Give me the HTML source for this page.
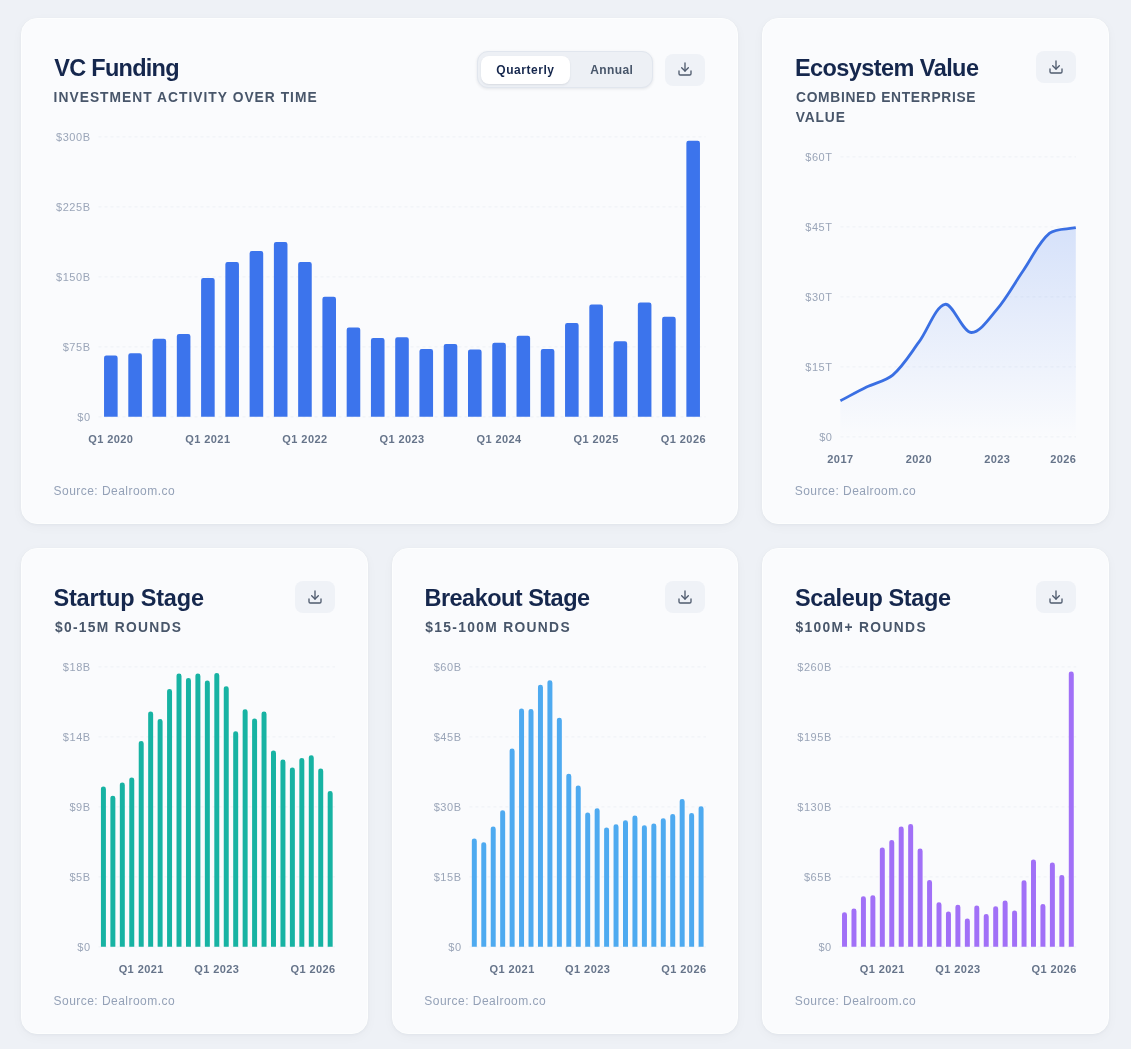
<!DOCTYPE html>
<html lang="en"><head><meta charset="utf-8"><title>VC Funding Dashboard</title>
<style>
html,body{margin:0;padding:0}
body{width:1131px;height:1049px;position:relative;overflow:hidden;background:#eef1f6;font-family:"Liberation Sans",sans-serif;-webkit-font-smoothing:antialiased}
.card{position:absolute;box-sizing:border-box;background:#fafbfd;border:1px solid #fdfefe;border-radius:16px;box-shadow:0 1px 3px rgba(30,41,59,.04),0 3px 12px rgba(30,41,59,.03)}
.title{position:absolute;font-size:23.5px;line-height:33px;font-weight:700;color:#15274d;letter-spacing:-.35px;white-space:nowrap}
.sub{position:absolute;font-size:13.8px;line-height:20px;font-weight:700;color:#48566a;letter-spacing:1.02px;white-space:nowrap}
.src{position:absolute;font-size:12px;line-height:16px;color:#94a1b7;letter-spacing:.3px;white-space:nowrap}
.btn{position:absolute;width:40px;height:32px;border-radius:8px;background:#eff2f7}
.btn .ic{position:absolute;left:12px;top:7.6px}
.tog{position:absolute;box-sizing:border-box;border:1px solid #e1e6ee;background:#edf0f5;border-radius:11px;box-shadow:0 1px 3px rgba(30,41,59,.10)}
.pill{position:absolute;background:#fff;border-radius:8px;box-shadow:0 1px 2px rgba(30,41,59,.10)}
.tl{position:absolute;font-size:12px;line-height:28px;font-weight:700;white-space:nowrap}
svg.ch{position:absolute;left:0;top:0}
.g{stroke:#eef1f6;stroke-width:1;stroke-dasharray:3 3}
.yl{font-family:"Liberation Sans",sans-serif;font-size:11px;fill:#9aa5b8;text-anchor:end;letter-spacing:.55px}
.xl{font-family:"Liberation Sans",sans-serif;font-size:11px;font-weight:700;fill:#66748a;letter-spacing:.42px}
</style></head><body>

<div class="card" style="left:21px;top:18px;width:717.2px;height:506px"></div>
<div id="vc_t" class="title" style="left:54.27px;top:51.8px;letter-spacing:-0.725px;">VC Funding</div>
<div id="vc_s" class="sub" style="left:53.61px;top:87.5px;letter-spacing:1.017px;">INVESTMENT ACTIVITY OVER TIME</div>
<div id="vc_f" class="src" style="left:53.52px;top:482.5px;letter-spacing:0.466px;">Source: Dealroom.co</div>
<div class="card" style="left:762.2px;top:18px;width:346.8px;height:506px"></div>
<div id="eco_t" class="title" style="left:794.9px;top:51.8px;letter-spacing:-0.567px;">Ecosystem Value</div>
<div id="eco_s" class="sub" style="left:796px;top:87.5px;letter-spacing:0.692px;">COMBINED ENTERPRISE</div>
<div id="eco_s2" class="sub" style="left:795.75px;top:107.5px;letter-spacing:0.839px;">VALUE</div>
<div id="eco_f" class="src" style="left:794.68px;top:482.5px;letter-spacing:0.458px;">Source: Dealroom.co</div>
<div class="card" style="left:21px;top:548px;width:347px;height:486px"></div>
<div id="st_t" class="title" style="left:53.51px;top:581.8px;letter-spacing:-0.191px;">Startup Stage</div>
<div id="st_s" class="sub" style="left:54.94px;top:617.5px;letter-spacing:1.300px;">$0-15M ROUNDS</div>
<div id="st_f" class="src" style="left:53.52px;top:992.5px;letter-spacing:0.466px;">Source: Dealroom.co</div>
<div class="card" style="left:392px;top:548px;width:346.2px;height:486px"></div>
<div id="br_t" class="title" style="left:424.51px;top:581.8px;letter-spacing:-0.525px;">Breakout Stage</div>
<div id="br_s" class="sub" style="left:425.33px;top:617.5px;letter-spacing:1.324px;">$15-100M ROUNDS</div>
<div id="br_f" class="src" style="left:424.34px;top:992.5px;letter-spacing:0.476px;">Source: Dealroom.co</div>
<div class="card" style="left:762.2px;top:548px;width:346.8px;height:486px"></div>
<div id="sc_t" class="title" style="left:794.96px;top:581.8px;letter-spacing:-0.387px;">Scaleup Stage</div>
<div id="sc_s" class="sub" style="left:795.44px;top:617.5px;letter-spacing:1.357px;">$100M+ ROUNDS</div>
<div id="sc_f" class="src" style="left:794.68px;top:992.5px;letter-spacing:0.458px;">Source: Dealroom.co</div>
<div class="tog" style="left:476.5px;top:51px;width:176px;height:37px"></div>
<div class="pill" style="left:481px;top:55.5px;width:89px;height:28px"></div>
<div id="tq" class="tl" style="left:496.34px;top:55.5px;letter-spacing:0.534px;color:#15274d;">Quarterly</div>
<div id="ta" class="tl" style="left:590.21px;top:55.5px;letter-spacing:0.390px;color:#48566a;">Annual</div>
<div class="btn" style="left:665.2px;top:53.5px"><svg class="ic" viewBox="0 0 24 24" width="16" height="16" fill="none" stroke="#4f5b6e" stroke-width="2" stroke-linecap="round" stroke-linejoin="round"><path d="M21 15v4a2 2 0 0 1-2 2H5a2 2 0 0 1-2-2v-4"/><path d="M7 10l5 5 5-5"/><path d="M12 15V3"/></svg></div>
<div class="btn" style="left:1036px;top:51px"><svg class="ic" viewBox="0 0 24 24" width="16" height="16" fill="none" stroke="#4f5b6e" stroke-width="2" stroke-linecap="round" stroke-linejoin="round"><path d="M21 15v4a2 2 0 0 1-2 2H5a2 2 0 0 1-2-2v-4"/><path d="M7 10l5 5 5-5"/><path d="M12 15V3"/></svg></div>
<div class="btn" style="left:295px;top:581px"><svg class="ic" viewBox="0 0 24 24" width="16" height="16" fill="none" stroke="#4f5b6e" stroke-width="2" stroke-linecap="round" stroke-linejoin="round"><path d="M21 15v4a2 2 0 0 1-2 2H5a2 2 0 0 1-2-2v-4"/><path d="M7 10l5 5 5-5"/><path d="M12 15V3"/></svg></div>
<div class="btn" style="left:665.2px;top:581px"><svg class="ic" viewBox="0 0 24 24" width="16" height="16" fill="none" stroke="#4f5b6e" stroke-width="2" stroke-linecap="round" stroke-linejoin="round"><path d="M21 15v4a2 2 0 0 1-2 2H5a2 2 0 0 1-2-2v-4"/><path d="M7 10l5 5 5-5"/><path d="M12 15V3"/></svg></div>
<div class="btn" style="left:1036px;top:581px"><svg class="ic" viewBox="0 0 24 24" width="16" height="16" fill="none" stroke="#4f5b6e" stroke-width="2" stroke-linecap="round" stroke-linejoin="round"><path d="M21 15v4a2 2 0 0 1-2 2H5a2 2 0 0 1-2-2v-4"/><path d="M7 10l5 5 5-5"/><path d="M12 15V3"/></svg></div>
<svg class="ch" width="1131" height="1049" viewBox="0 0 1131 1049">
<defs><linearGradient id="eg" x1="0" y1="227" x2="0" y2="437" gradientUnits="userSpaceOnUse"><stop offset="0" stop-color="#3c74ec" stop-opacity=".19"/><stop offset="1" stop-color="#3c74ec" stop-opacity="0"/></linearGradient></defs>
<line x1="98.5" y1="136.9" x2="705.5" y2="136.9" class="g"/>
<line x1="98.5" y1="206.9" x2="705.5" y2="206.9" class="g"/>
<line x1="98.5" y1="276.9" x2="705.5" y2="276.9" class="g"/>
<line x1="98.5" y1="346.9" x2="705.5" y2="346.9" class="g"/>
<line x1="98.5" y1="416.9" x2="705.5" y2="416.9" class="g"/>
<text x="90.6" y="140.9" class="yl">$300B</text>
<text x="90.6" y="210.9" class="yl">$225B</text>
<text x="90.6" y="280.9" class="yl">$150B</text>
<text x="90.6" y="350.9" class="yl">$75B</text>
<text x="90.6" y="420.9" class="yl">$0</text>
<path d="M104.04 416.85V357.7A2.2 2.2 0 0 1 106.24 355.5H115.43A2.2 2.2 0 0 1 117.63 357.7V416.85ZM128.3 416.85V355.5A2.2 2.2 0 0 1 130.5 353.3H139.69A2.2 2.2 0 0 1 141.89 355.5V416.85ZM152.57 416.85V341A2.2 2.2 0 0 1 154.77 338.8H163.95A2.2 2.2 0 0 1 166.15 341V416.85ZM176.83 416.85V336.2A2.2 2.2 0 0 1 179.03 334H188.22A2.2 2.2 0 0 1 190.42 336.2V416.85ZM201.09 416.85V280.3A2.2 2.2 0 0 1 203.29 278.1H212.48A2.2 2.2 0 0 1 214.68 280.3V416.85ZM225.36 416.85V264.3A2.2 2.2 0 0 1 227.56 262.1H236.75A2.2 2.2 0 0 1 238.95 264.3V416.85ZM249.62 416.85V253.3A2.2 2.2 0 0 1 251.82 251.1H261.01A2.2 2.2 0 0 1 263.21 253.3V416.85ZM273.89 416.85V244.3A2.2 2.2 0 0 1 276.09 242.1H285.27A2.2 2.2 0 0 1 287.47 244.3V416.85ZM298.15 416.85V264.2A2.2 2.2 0 0 1 300.35 262H309.54A2.2 2.2 0 0 1 311.74 264.2V416.85ZM322.41 416.85V298.9A2.2 2.2 0 0 1 324.61 296.7H333.8A2.2 2.2 0 0 1 336 298.9V416.85ZM346.68 416.85V329.7A2.2 2.2 0 0 1 348.88 327.5H358.07A2.2 2.2 0 0 1 360.27 329.7V416.85ZM370.94 416.85V340.3A2.2 2.2 0 0 1 373.14 338.1H382.33A2.2 2.2 0 0 1 384.53 340.3V416.85ZM395.21 416.85V339.5A2.2 2.2 0 0 1 397.41 337.3H406.59A2.2 2.2 0 0 1 408.79 339.5V416.85ZM419.47 416.85V351.3A2.2 2.2 0 0 1 421.67 349.1H430.86A2.2 2.2 0 0 1 433.06 351.3V416.85ZM443.73 416.85V346.1A2.2 2.2 0 0 1 445.93 343.9H455.12A2.2 2.2 0 0 1 457.32 346.1V416.85ZM468 416.85V351.7A2.2 2.2 0 0 1 470.2 349.5H479.39A2.2 2.2 0 0 1 481.59 351.7V416.85ZM492.26 416.85V344.9A2.2 2.2 0 0 1 494.46 342.7H503.65A2.2 2.2 0 0 1 505.85 344.9V416.85ZM516.53 416.85V337.9A2.2 2.2 0 0 1 518.73 335.7H527.91A2.2 2.2 0 0 1 530.11 337.9V416.85ZM540.79 416.85V351.3A2.2 2.2 0 0 1 542.99 349.1H552.18A2.2 2.2 0 0 1 554.38 351.3V416.85ZM565.05 416.85V325.3A2.2 2.2 0 0 1 567.25 323.1H576.44A2.2 2.2 0 0 1 578.64 325.3V416.85ZM589.32 416.85V306.7A2.2 2.2 0 0 1 591.52 304.5H600.71A2.2 2.2 0 0 1 602.91 306.7V416.85ZM613.58 416.85V343.5A2.2 2.2 0 0 1 615.78 341.3H624.97A2.2 2.2 0 0 1 627.17 343.5V416.85ZM637.85 416.85V304.7A2.2 2.2 0 0 1 640.05 302.5H649.23A2.2 2.2 0 0 1 651.43 304.7V416.85ZM662.11 416.85V318.9A2.2 2.2 0 0 1 664.31 316.7H673.5A2.2 2.2 0 0 1 675.7 318.9V416.85ZM686.37 416.85V142.9A2.2 2.2 0 0 1 688.57 140.7H697.76A2.2 2.2 0 0 1 699.96 142.9V416.85Z" fill="#3c74ec"/>
<text x="110.83" y="442.8" class="xl" text-anchor="middle">Q1 2020</text>
<text x="207.89" y="442.8" class="xl" text-anchor="middle">Q1 2021</text>
<text x="304.94" y="442.8" class="xl" text-anchor="middle">Q1 2022</text>
<text x="402" y="442.8" class="xl" text-anchor="middle">Q1 2023</text>
<text x="499.06" y="442.8" class="xl" text-anchor="middle">Q1 2024</text>
<text x="596.11" y="442.8" class="xl" text-anchor="middle">Q1 2025</text>
<text x="706" y="442.8" class="xl" text-anchor="end">Q1 2026</text>
<line x1="840.5" y1="156.9" x2="1076" y2="156.9" class="g"/>
<line x1="840.5" y1="226.9" x2="1076" y2="226.9" class="g"/>
<line x1="840.5" y1="296.9" x2="1076" y2="296.9" class="g"/>
<line x1="840.5" y1="366.9" x2="1076" y2="366.9" class="g"/>
<line x1="840.5" y1="436.9" x2="1076" y2="436.9" class="g"/>
<text x="832.5" y="160.9" class="yl">$60T</text>
<text x="832.5" y="230.9" class="yl">$45T</text>
<text x="832.5" y="300.9" class="yl">$30T</text>
<text x="832.5" y="370.9" class="yl">$15T</text>
<text x="832.5" y="440.9" class="yl">$0</text>
<path d="M840.4 400.8C849.03 396.25 857.8 391.3 866.56 387C875.06 382.82 885.7 381.1 892.71 375.1C902.96 366.32 910.63 353.35 918.87 342.2C927.89 329.98 935.62 306.04 945.02 304.3C952.88 302.84 962.17 331.71 971.18 332.5C979.43 333.23 989.91 317.74 997.33 308.9C1007.17 297.18 1014.73 282.88 1023.49 270.2C1031.99 257.9 1038.79 242.02 1049.64 233.2C1056.05 228 1067.17 229.51 1075.8 227.7L1075.8 437L840.4 437Z" fill="url(#eg)"/>
<path d="M840.4 400.8C849.03 396.25 857.8 391.3 866.56 387C875.06 382.82 885.7 381.1 892.71 375.1C902.96 366.32 910.63 353.35 918.87 342.2C927.89 329.98 935.62 306.04 945.02 304.3C952.88 302.84 962.17 331.71 971.18 332.5C979.43 333.23 989.91 317.74 997.33 308.9C1007.17 297.18 1014.73 282.88 1023.49 270.2C1031.99 257.9 1038.79 242.02 1049.64 233.2C1056.05 228 1067.17 229.51 1075.8 227.7" fill="none" stroke="#3a6fe3" stroke-width="2.8" stroke-linecap="butt" stroke-linejoin="round"/>
<text x="840.4" y="462.8" class="xl" text-anchor="middle">2017</text>
<text x="918.87" y="462.8" class="xl" text-anchor="middle">2020</text>
<text x="997.33" y="462.8" class="xl" text-anchor="middle">2023</text>
<text x="1076.4" y="462.8" class="xl" text-anchor="end">2026</text>
<line x1="98.5" y1="666.9" x2="335.1" y2="666.9" class="g"/>
<line x1="98.5" y1="736.9" x2="335.1" y2="736.9" class="g"/>
<line x1="98.5" y1="806.9" x2="335.1" y2="806.9" class="g"/>
<line x1="98.5" y1="876.9" x2="335.1" y2="876.9" class="g"/>
<line x1="98.5" y1="946.9" x2="335.1" y2="946.9" class="g"/>
<text x="90.7" y="670.9" class="yl">$18B</text>
<text x="90.7" y="740.9" class="yl">$14B</text>
<text x="90.7" y="810.9" class="yl">$9B</text>
<text x="90.7" y="880.9" class="yl">$5B</text>
<text x="90.7" y="950.9" class="yl">$0</text>
<path d="M100.93 946.8V788.89A2.49 2.49 0 0 1 103.42 786.4H103.42A2.49 2.49 0 0 1 105.91 788.89V946.8ZM110.38 946.8V798.29A2.49 2.49 0 0 1 112.87 795.8H112.87A2.49 2.49 0 0 1 115.36 798.29V946.8ZM119.83 946.8V784.89A2.49 2.49 0 0 1 122.32 782.4H122.32A2.49 2.49 0 0 1 124.81 784.89V946.8ZM129.28 946.8V779.89A2.49 2.49 0 0 1 131.77 777.4H131.77A2.49 2.49 0 0 1 134.26 779.89V946.8ZM138.73 946.8V743.49A2.49 2.49 0 0 1 141.22 741H141.22A2.49 2.49 0 0 1 143.71 743.49V946.8ZM148.17 946.8V714.09A2.49 2.49 0 0 1 150.66 711.6H150.66A2.49 2.49 0 0 1 153.15 714.09V946.8ZM157.62 946.8V721.49A2.49 2.49 0 0 1 160.11 719H160.11A2.49 2.49 0 0 1 162.6 721.49V946.8ZM167.07 946.8V691.39A2.49 2.49 0 0 1 169.56 688.9H169.56A2.49 2.49 0 0 1 172.05 691.39V946.8ZM176.52 946.8V676.09A2.49 2.49 0 0 1 179.01 673.6H179.01A2.49 2.49 0 0 1 181.5 676.09V946.8ZM185.97 946.8V680.39A2.49 2.49 0 0 1 188.46 677.9H188.46A2.49 2.49 0 0 1 190.95 680.39V946.8ZM195.41 946.8V676.09A2.49 2.49 0 0 1 197.9 673.6H197.9A2.49 2.49 0 0 1 200.39 676.09V946.8ZM204.86 946.8V683.09A2.49 2.49 0 0 1 207.35 680.6H207.35A2.49 2.49 0 0 1 209.84 683.09V946.8ZM214.31 946.8V675.39A2.49 2.49 0 0 1 216.8 672.9H216.8A2.49 2.49 0 0 1 219.29 675.39V946.8ZM223.76 946.8V688.79A2.49 2.49 0 0 1 226.25 686.3H226.25A2.49 2.49 0 0 1 228.74 688.79V946.8ZM233.21 946.8V733.69A2.49 2.49 0 0 1 235.7 731.2H235.7A2.49 2.49 0 0 1 238.19 733.69V946.8ZM242.65 946.8V711.69A2.49 2.49 0 0 1 245.14 709.2H245.14A2.49 2.49 0 0 1 247.63 711.69V946.8ZM252.1 946.8V721.09A2.49 2.49 0 0 1 254.59 718.6H254.59A2.49 2.49 0 0 1 257.08 721.09V946.8ZM261.55 946.8V713.99A2.49 2.49 0 0 1 264.04 711.5H264.04A2.49 2.49 0 0 1 266.53 713.99V946.8ZM271 946.8V752.89A2.49 2.49 0 0 1 273.49 750.4H273.49A2.49 2.49 0 0 1 275.98 752.89V946.8ZM280.45 946.8V761.99A2.49 2.49 0 0 1 282.94 759.5H282.94A2.49 2.49 0 0 1 285.43 761.99V946.8ZM289.89 946.8V770.09A2.49 2.49 0 0 1 292.38 767.6H292.38A2.49 2.49 0 0 1 294.87 770.09V946.8ZM299.34 946.8V760.59A2.49 2.49 0 0 1 301.83 758.1H301.83A2.49 2.49 0 0 1 304.32 760.59V946.8ZM308.79 946.8V757.69A2.49 2.49 0 0 1 311.28 755.2H311.28A2.49 2.49 0 0 1 313.77 757.69V946.8ZM318.24 946.8V770.99A2.49 2.49 0 0 1 320.73 768.5H320.73A2.49 2.49 0 0 1 323.22 770.99V946.8ZM327.69 946.8V793.59A2.49 2.49 0 0 1 330.18 791.1H330.18A2.49 2.49 0 0 1 332.67 793.59V946.8Z" fill="#17b3a3"/>
<text x="141.22" y="972.8" class="xl" text-anchor="middle">Q1 2021</text>
<text x="216.8" y="972.8" class="xl" text-anchor="middle">Q1 2023</text>
<text x="335.6" y="972.8" class="xl" text-anchor="end">Q1 2026</text>
<line x1="469.4" y1="666.9" x2="706" y2="666.9" class="g"/>
<line x1="469.4" y1="736.9" x2="706" y2="736.9" class="g"/>
<line x1="469.4" y1="806.9" x2="706" y2="806.9" class="g"/>
<line x1="469.4" y1="876.9" x2="706" y2="876.9" class="g"/>
<line x1="469.4" y1="946.9" x2="706" y2="946.9" class="g"/>
<text x="461.6" y="670.9" class="yl">$60B</text>
<text x="461.6" y="740.9" class="yl">$45B</text>
<text x="461.6" y="810.9" class="yl">$30B</text>
<text x="461.6" y="880.9" class="yl">$15B</text>
<text x="461.6" y="950.9" class="yl">$0</text>
<path d="M471.83 946.8V840.99A2.49 2.49 0 0 1 474.32 838.5H474.32A2.49 2.49 0 0 1 476.81 840.99V946.8ZM481.28 946.8V844.79A2.49 2.49 0 0 1 483.77 842.3H483.77A2.49 2.49 0 0 1 486.26 844.79V946.8ZM490.73 946.8V828.89A2.49 2.49 0 0 1 493.22 826.4H493.22A2.49 2.49 0 0 1 495.71 828.89V946.8ZM500.18 946.8V812.69A2.49 2.49 0 0 1 502.67 810.2H502.67A2.49 2.49 0 0 1 505.16 812.69V946.8ZM509.63 946.8V751.09A2.49 2.49 0 0 1 512.12 748.6H512.12A2.49 2.49 0 0 1 514.61 751.09V946.8ZM519.07 946.8V710.89A2.49 2.49 0 0 1 521.56 708.4H521.56A2.49 2.49 0 0 1 524.05 710.89V946.8ZM528.52 946.8V711.59A2.49 2.49 0 0 1 531.01 709.1H531.01A2.49 2.49 0 0 1 533.5 711.59V946.8ZM537.97 946.8V687.29A2.49 2.49 0 0 1 540.46 684.8H540.46A2.49 2.49 0 0 1 542.95 687.29V946.8ZM547.42 946.8V682.69A2.49 2.49 0 0 1 549.91 680.2H549.91A2.49 2.49 0 0 1 552.4 682.69V946.8ZM556.87 946.8V720.29A2.49 2.49 0 0 1 559.36 717.8H559.36A2.49 2.49 0 0 1 561.85 720.29V946.8ZM566.31 946.8V776.19A2.49 2.49 0 0 1 568.8 773.7H568.8A2.49 2.49 0 0 1 571.29 776.19V946.8ZM575.76 946.8V787.99A2.49 2.49 0 0 1 578.25 785.5H578.25A2.49 2.49 0 0 1 580.74 787.99V946.8ZM585.21 946.8V815.09A2.49 2.49 0 0 1 587.7 812.6H587.7A2.49 2.49 0 0 1 590.19 815.09V946.8ZM594.66 946.8V810.69A2.49 2.49 0 0 1 597.15 808.2H597.15A2.49 2.49 0 0 1 599.64 810.69V946.8ZM604.11 946.8V830.09A2.49 2.49 0 0 1 606.6 827.6H606.6A2.49 2.49 0 0 1 609.09 830.09V946.8ZM613.55 946.8V826.79A2.49 2.49 0 0 1 616.04 824.3H616.04A2.49 2.49 0 0 1 618.53 826.79V946.8ZM623 946.8V822.79A2.49 2.49 0 0 1 625.49 820.3H625.49A2.49 2.49 0 0 1 627.98 822.79V946.8ZM632.45 946.8V817.89A2.49 2.49 0 0 1 634.94 815.4H634.94A2.49 2.49 0 0 1 637.43 817.89V946.8ZM641.9 946.8V827.79A2.49 2.49 0 0 1 644.39 825.3H644.39A2.49 2.49 0 0 1 646.88 827.79V946.8ZM651.35 946.8V825.89A2.49 2.49 0 0 1 653.84 823.4H653.84A2.49 2.49 0 0 1 656.33 825.89V946.8ZM660.79 946.8V820.79A2.49 2.49 0 0 1 663.28 818.3H663.28A2.49 2.49 0 0 1 665.77 820.79V946.8ZM670.24 946.8V816.49A2.49 2.49 0 0 1 672.73 814H672.73A2.49 2.49 0 0 1 675.22 816.49V946.8ZM679.69 946.8V801.39A2.49 2.49 0 0 1 682.18 798.9H682.18A2.49 2.49 0 0 1 684.67 801.39V946.8ZM689.14 946.8V815.39A2.49 2.49 0 0 1 691.63 812.9H691.63A2.49 2.49 0 0 1 694.12 815.39V946.8ZM698.59 946.8V808.69A2.49 2.49 0 0 1 701.08 806.2H701.08A2.49 2.49 0 0 1 703.57 808.69V946.8Z" fill="#4eaaf0"/>
<text x="512.12" y="972.8" class="xl" text-anchor="middle">Q1 2021</text>
<text x="587.7" y="972.8" class="xl" text-anchor="middle">Q1 2023</text>
<text x="706.5" y="972.8" class="xl" text-anchor="end">Q1 2026</text>
<line x1="839.6" y1="666.9" x2="1076.2" y2="666.9" class="g"/>
<line x1="839.6" y1="736.9" x2="1076.2" y2="736.9" class="g"/>
<line x1="839.6" y1="806.9" x2="1076.2" y2="806.9" class="g"/>
<line x1="839.6" y1="876.9" x2="1076.2" y2="876.9" class="g"/>
<line x1="839.6" y1="946.9" x2="1076.2" y2="946.9" class="g"/>
<text x="831.8" y="670.9" class="yl">$260B</text>
<text x="831.8" y="740.9" class="yl">$195B</text>
<text x="831.8" y="810.9" class="yl">$130B</text>
<text x="831.8" y="880.9" class="yl">$65B</text>
<text x="831.8" y="950.9" class="yl">$0</text>
<path d="M842.03 946.8V914.79A2.49 2.49 0 0 1 844.52 912.3H844.52A2.49 2.49 0 0 1 847.01 914.79V946.8ZM851.48 946.8V910.99A2.49 2.49 0 0 1 853.97 908.5H853.97A2.49 2.49 0 0 1 856.46 910.99V946.8ZM860.93 946.8V898.69A2.49 2.49 0 0 1 863.42 896.2H863.42A2.49 2.49 0 0 1 865.91 898.69V946.8ZM870.38 946.8V897.69A2.49 2.49 0 0 1 872.87 895.2H872.87A2.49 2.49 0 0 1 875.36 897.69V946.8ZM879.83 946.8V849.99A2.49 2.49 0 0 1 882.32 847.5H882.32A2.49 2.49 0 0 1 884.81 849.99V946.8ZM889.27 946.8V842.59A2.49 2.49 0 0 1 891.76 840.1H891.76A2.49 2.49 0 0 1 894.25 842.59V946.8ZM898.72 946.8V828.99A2.49 2.49 0 0 1 901.21 826.5H901.21A2.49 2.49 0 0 1 903.7 828.99V946.8ZM908.17 946.8V826.59A2.49 2.49 0 0 1 910.66 824.1H910.66A2.49 2.49 0 0 1 913.15 826.59V946.8ZM917.62 946.8V850.99A2.49 2.49 0 0 1 920.11 848.5H920.11A2.49 2.49 0 0 1 922.6 850.99V946.8ZM927.07 946.8V882.49A2.49 2.49 0 0 1 929.56 880H929.56A2.49 2.49 0 0 1 932.05 882.49V946.8ZM936.51 946.8V904.79A2.49 2.49 0 0 1 939 902.3H939A2.49 2.49 0 0 1 941.49 904.79V946.8ZM945.96 946.8V913.89A2.49 2.49 0 0 1 948.45 911.4H948.45A2.49 2.49 0 0 1 950.94 913.89V946.8ZM955.41 946.8V907.19A2.49 2.49 0 0 1 957.9 904.7H957.9A2.49 2.49 0 0 1 960.39 907.19V946.8ZM964.86 946.8V921.09A2.49 2.49 0 0 1 967.35 918.6H967.35A2.49 2.49 0 0 1 969.84 921.09V946.8ZM974.31 946.8V907.89A2.49 2.49 0 0 1 976.8 905.4H976.8A2.49 2.49 0 0 1 979.29 907.89V946.8ZM983.75 946.8V916.49A2.49 2.49 0 0 1 986.24 914H986.24A2.49 2.49 0 0 1 988.73 916.49V946.8ZM993.2 946.8V908.79A2.49 2.49 0 0 1 995.69 906.3H995.69A2.49 2.49 0 0 1 998.18 908.79V946.8ZM1002.65 946.8V902.99A2.49 2.49 0 0 1 1005.14 900.5H1005.14A2.49 2.49 0 0 1 1007.63 902.99V946.8ZM1012.1 946.8V912.99A2.49 2.49 0 0 1 1014.59 910.5H1014.59A2.49 2.49 0 0 1 1017.08 912.99V946.8ZM1021.55 946.8V882.69A2.49 2.49 0 0 1 1024.04 880.2H1024.04A2.49 2.49 0 0 1 1026.53 882.69V946.8ZM1030.99 946.8V861.99A2.49 2.49 0 0 1 1033.48 859.5H1033.48A2.49 2.49 0 0 1 1035.97 861.99V946.8ZM1040.44 946.8V906.49A2.49 2.49 0 0 1 1042.93 904H1042.93A2.49 2.49 0 0 1 1045.42 906.49V946.8ZM1049.89 946.8V865.09A2.49 2.49 0 0 1 1052.38 862.6H1052.38A2.49 2.49 0 0 1 1054.87 865.09V946.8ZM1059.34 946.8V877.49A2.49 2.49 0 0 1 1061.83 875H1061.83A2.49 2.49 0 0 1 1064.32 877.49V946.8ZM1068.79 946.8V673.89A2.49 2.49 0 0 1 1071.28 671.4H1071.28A2.49 2.49 0 0 1 1073.77 673.89V946.8Z" fill="#a170f7"/>
<text x="882.32" y="972.8" class="xl" text-anchor="middle">Q1 2021</text>
<text x="957.9" y="972.8" class="xl" text-anchor="middle">Q1 2023</text>
<text x="1076.7" y="972.8" class="xl" text-anchor="end">Q1 2026</text>
</svg>
</body></html>
